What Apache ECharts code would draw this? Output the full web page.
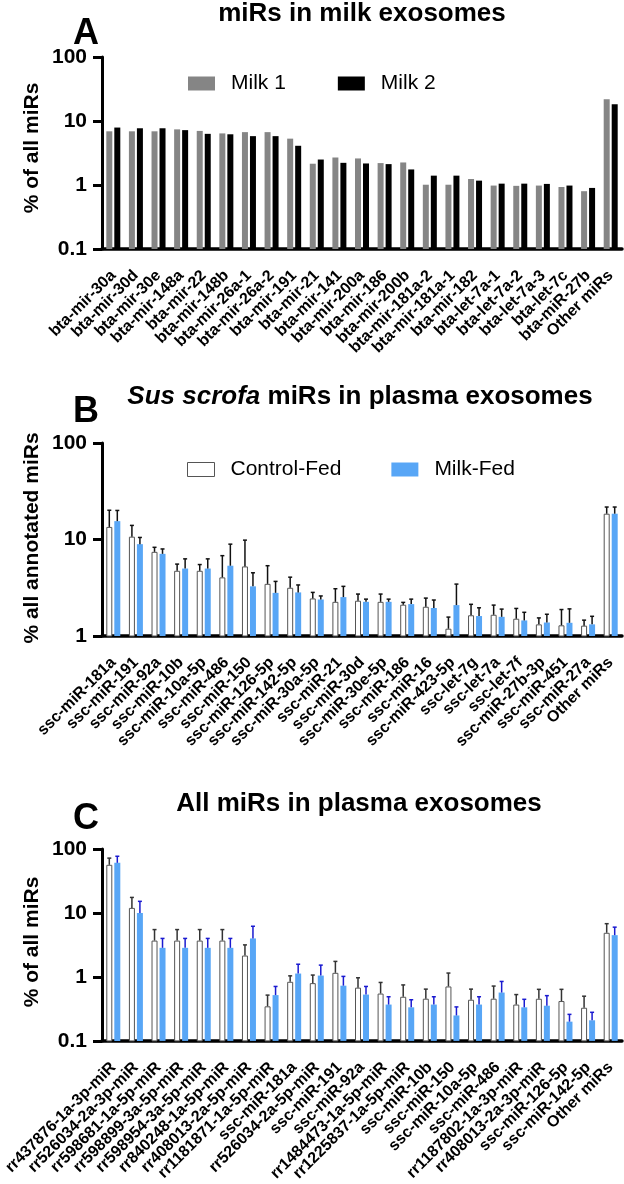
<!DOCTYPE html>
<html>
<head>
<meta charset="utf-8">
<script src="https://cdn.jsdelivr.net/npm/echarts@6.0.0/dist/echarts.min.js"></script>
<style>
html,body{margin:0;padding:0;background:#fff;}
#chart{width:624px;height:1184px;}
</style>
</head>
<body>
<div id="chart"></div>
<script>
// ---------- Panel A data ----------
const catsA = ['bta-mir-30a','bta-mir-30d','bta-mir-30e','bta-mir-148a','bta-mir-22','bta-mir-148b','bta-mir-26a-1','bta-mir-26a-2','bta-mir-191','bta-mir-21','bta-mir-141','bta-mir-200a','bta-mir-186','bta-mir-200b','bta-mir-181a-2','bta-mir-181a-1','bta-mir-182','bta-let-7a-1','bta-let-7a-2','bta-let-7a-3','bta-let-7c','bta-miR-27b','Other miRs'];
const milk1 = [6.9,6.9,6.9,7.4,7.0,6.4,6.7,6.7,5.3,2.15,2.69,2.6,2.2,2.25,1.01,1.01,1.24,0.98,0.97,0.98,0.93,0.8,21.9];
const milk2 = [7.9,7.7,7.7,7.2,6.3,6.2,5.8,5.8,4.1,2.5,2.22,2.17,2.12,1.75,1.4,1.4,1.17,1.05,1.05,1.04,0.98,0.9,18.3];
const ticksA = [0.1,1,10,100];

// ---------- Panel B data ----------
const catsB = ['ssc-miR-181a','ssc-miR-191','ssc-miR-92a','ssc-miR-10b','ssc-miR-10a-5p','ssc-miR-486','ssc-miR-150','ssc-miR-126-5p','ssc-miR-142-5p','ssc-miR-30a-5p','ssc-miR-21','ssc-miR-30d','ssc-miR-30e-5p','ssc-miR-186','ssc-miR-16','ssc-miR-423-5p','ssc-let-7g','ssc-let-7a','ssc-let-7f','ssc-miR-27b-3p','ssc-miR-451','ssc-miR-27a','Other miRs'];
const ctrlB = [13.5,10.7,7.45,4.74,4.74,4.05,5.26,3.47,3.16,2.45,2.26,2.32,2.26,2.11,2.01,1.19,1.64,1.66,1.51,1.32,1.29,1.28,18.5];
const ctrlBTop = [20.1,14,8.3,5.56,5.5,6.8,9.85,5.35,4.07,2.83,3.09,2.72,2.72,2.23,2.47,1.57,2.13,2.09,1.93,1.54,1.88,1.46,21.7];
const milkB = [15.5,8.95,7.1,5.0,5.0,5.35,3.27,2.8,2.83,2.39,2.53,2.26,2.26,2.14,1.95,2.09,1.61,1.58,1.45,1.38,1.37,1.32,18.5];
const milkBTop = [20,10.5,7.98,6.3,6.3,8.95,4.52,3.68,3.38,2.6,3.27,2.41,2.41,2.41,2.36,3.45,1.96,1.9,1.76,1.68,1.91,1.6,21.7];
const ticksB = [1,10,100];

// ---------- Panel C data ----------
const catsC = ['rr437876-1a-3p-miR','rr526034-2a-3p-miR','rr598681-1a-5p-miR','rr598899-3a-5p-miR','rr598954-3a-5p-miR','rr840248-1a-5p-miR','rr408013-2a-5p-miR','rr1181871-1a-5p-miR','ssc-miR-181a','rr526034-2a-5p-miR','ssc-miR-191','ssc-miR-92a','rr1484473-1a-5p-miR','rr1225837-1a-5p-miR','ssc-miR-10b','ssc-miR-150','ssc-miR-10a-5p','ssc-miR-486','rr1187802-1a-3p-miR','rr408013-2a-3p-miR','ssc-miR-126-5p','ssc-miR-142-5p','Other miRs'];
const ctrlC = [56.6,12,3.7,3.7,3.7,3.7,2.16,0.347,0.84,0.8,1.16,0.68,0.55,0.49,0.457,0.71,0.44,0.457,0.37,0.456,0.42,0.33,4.9];
const ctrlCTop = [72,17.5,5.5,5.5,5.5,5.5,3.17,0.52,1.04,1.07,1.75,0.97,0.82,0.75,0.645,1.15,0.645,0.72,0.53,0.64,0.64,0.5,6.8];
const milkC = [60.8,10,2.85,2.85,2.85,2.85,4.0,0.52,1.13,1.05,0.73,0.53,0.37,0.335,0.37,0.25,0.37,0.57,0.335,0.355,0.2,0.21,4.5];
const milkCTop = [77,15.2,4.0,4.0,4.0,4.0,6.2,0.71,1.58,1.53,1.02,0.71,0.49,0.44,0.49,0.34,0.49,0.85,0.447,0.51,0.26,0.28,6.0];
const ticksC = [0.1,1,10,100];

// ---------- styles ----------
const FONT = '"Liberation Sans", Arial, Helvetica, sans-serif';
const GREY = '#858585';
const BLUE = '#58a6f6';
const BAR_W = 6;
const BAR_OFF = 4;

const grids = [
  {left:102, top:57, width:520, height:192},
  {left:102, top:443, width:520, height:193},
  {left:102, top:849, width:520, height:193}
];

function xAxisFor(i, cats){
  return {
    type:'category', gridIndex:i, data:cats,
    axisLine:{lineStyle:{color:'#000', width:3.5}},
    axisTick:{alignWithLabel:true, length:11, lineStyle:{color:'#000', width:4}},
    axisLabel:{interval:0, rotate:45, fontSize:16, fontWeight:'bold', fontFamily:FONT, color:'#000', margin:24}
  };
}
function yAxisFor(i, ticks){
  return {
    type:'log', logBase:10, gridIndex:i, min:ticks[0], max:ticks[ticks.length-1],
    splitNumber:ticks.length-1,
    axisLine:{show:true, lineStyle:{color:'#000', width:3}},
    axisTick:{show:true, length:9, lineStyle:{color:'#000', width:3}},
    minorTick:{show:false},
    splitLine:{show:false},
    axisLabel:{fontSize:21, fontWeight:'bold', fontFamily:FONT, color:'#000', margin:15,
      formatter:function(v){ const r = Math.round(v*1000)/1000; return String(r); }}
  };
}

// bars drawn from the axis minimum (log axis) with optional upper error bar
function barSeries(name, i, vals, tops, offset, fill, stroke, errColor, minVal){
  return {
    name:name, type:'custom', xAxisIndex:i, yAxisIndex:i, silent:true,
    itemStyle:{color:fill, borderColor:stroke || fill, borderWidth: stroke ? 1 : 0},
    data: vals.map((v,k)=> tops ? [k, v, tops[k]] : [k, v, v]),
    renderItem:function(params, api){
      const k = api.value(0);
      const pv = api.coord([k, api.value(1)]);
      const pb = api.coord([k, minVal]);
      const cx = pv[0] + offset;
      const children = [];
      if (stroke) {
        children.push({type:'rect', shape:{x:cx-BAR_W/2+0.5, y:pv[1]+0.5, width:BAR_W-1, height:pb[1]-pv[1]-0.5},
          style:{fill:fill, stroke:stroke, lineWidth:1}});
      } else {
        children.push({type:'rect', shape:{x:cx-BAR_W/2, y:pv[1], width:BAR_W, height:pb[1]-pv[1]},
          style:{fill:fill}});
      }
      if (tops) {
        const pt = api.coord([k, api.value(2)]);
        children.push({type:'line', shape:{x1:cx, y1:pv[1], x2:cx, y2:pt[1]}, style:{stroke:errColor, lineWidth:1.5}});
        children.push({type:'line', shape:{x1:cx-2, y1:pt[1], x2:cx+2, y2:pt[1]}, style:{stroke:errColor, lineWidth:1.5}});
      }
      return {type:'group', children:children};
    }
  };
}

const legendText = {fontSize:21, fontFamily:FONT, color:'#000', padding:[0,0,0,11]};

const option = {
  animation:false,
  backgroundColor:'#ffffff',
  grid:grids,
  xAxis:[xAxisFor(0,catsA), xAxisFor(1,catsB), xAxisFor(2,catsC)],
  yAxis:[yAxisFor(0,ticksA), yAxisFor(1,ticksB), yAxisFor(2,ticksC)],
  legend:[
    {data:[{name:'Milk 1', itemStyle:{color:GREY}}, {name:'Milk 2', itemStyle:{color:'#000'}}],
      left:183, top:68, icon:'rect', itemWidth:27, itemHeight:14, itemGap:52, selectedMode:false, textStyle:legendText},
    {data:[{name:'Control-Fed', itemStyle:{color:'#fff', borderColor:'#555', borderWidth:1}}, {name:'Milk-Fed', itemStyle:{color:BLUE}}],
      left:182, top:454, icon:'rect', itemWidth:27, itemHeight:14, itemGap:50, selectedMode:false, textStyle:legendText}
  ],
  series:[
    barSeries('Milk 1', 0, milk1, null, -BAR_OFF, GREY, null, null, ticksA[0]),
    barSeries('Milk 2', 0, milk2, null, BAR_OFF, '#000000', null, null, ticksA[0]),
    barSeries('Control-Fed', 1, ctrlB, ctrlBTop, -BAR_OFF, '#ffffff', '#555555', '#111111', ticksB[0]),
    barSeries('Milk-Fed', 1, milkB, milkBTop, BAR_OFF, BLUE, null, '#111111', ticksB[0]),
    barSeries('Control-Fed C', 2, ctrlC, ctrlCTop, -BAR_OFF, '#ffffff', '#555555', '#333333', ticksC[0]),
    barSeries('Milk-Fed C', 2, milkC, milkCTop, BAR_OFF, BLUE, null, '#1a1ad0', ticksC[0])
  ],
  graphic:[
    {type:'text', x:362, y:14, style:{text:'miRs in milk exosomes', font:'bold 26px '+FONT, fill:'#000', align:'center', verticalAlign:'middle'}},
    {type:'text', x:86, y:34, style:{text:'A', font:'bold 36px '+FONT, fill:'#000', align:'center', verticalAlign:'middle'}},
    {type:'text', x:32, y:148, rotation:Math.PI/2, style:{text:'% of all miRs', font:'bold 21px '+FONT, fill:'#000', align:'center', verticalAlign:'middle'}},

    {type:'text', x:360, y:397, style:{text:'{i|Sus scrofa}{b| miRs in plasma exosomes}', fill:'#000', align:'center', verticalAlign:'middle',
      rich:{i:{fontStyle:'italic', fontWeight:'bold', fontSize:26, fontFamily:FONT, fill:'#000'}, b:{fontWeight:'bold', fontSize:26, fontFamily:FONT, fill:'#000'}}}},
    {type:'text', x:86, y:412, style:{text:'B', font:'bold 36px '+FONT, fill:'#000', align:'center', verticalAlign:'middle'}},
    {type:'text', x:32, y:538, rotation:Math.PI/2, style:{text:'% all annotated miRs', font:'bold 21px '+FONT, fill:'#000', align:'center', verticalAlign:'middle'}},

    {type:'text', x:359, y:804, style:{text:'All miRs in plasma exosomes', font:'bold 26px '+FONT, fill:'#000', align:'center', verticalAlign:'middle'}},
    {type:'text', x:86, y:819, style:{text:'C', font:'bold 36px '+FONT, fill:'#000', align:'center', verticalAlign:'middle'}},
    {type:'text', x:32, y:942, rotation:Math.PI/2, style:{text:'% of all miRs', font:'bold 21px '+FONT, fill:'#000', align:'center', verticalAlign:'middle'}}
  ]
};

const chart = echarts.init(document.getElementById('chart'), null, {renderer:'canvas', width:624, height:1184});
chart.setOption(option);
</script>
</body>
</html>
